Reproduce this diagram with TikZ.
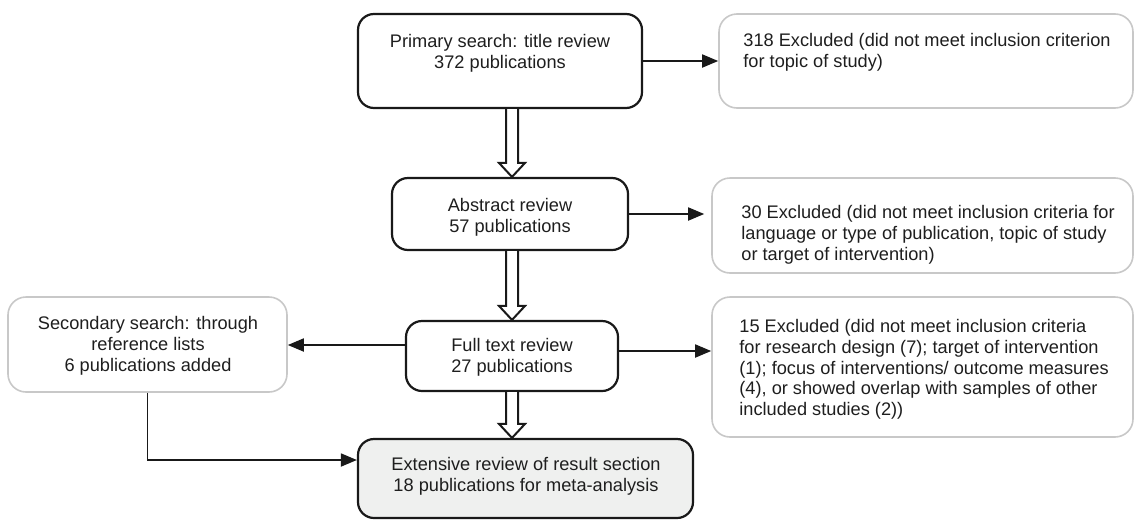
\documentclass[tikz,border=0pt]{standalone}
\usepackage{fontspec}
\setmainfont{Liberation Sans}
\usetikzlibrary{arrows.meta,calc,fit}
\definecolor{txtc}{HTML}{1E1E1E}
\definecolor{lgray}{HTML}{C8C8C8}
\definecolor{extfill}{HTML}{EFF0EF}
\begin{document}
\begin{tikzpicture}[x=0.5pt,y=-0.5pt,
  darkbox/.style={draw=black!90, line width=1.1pt, rounded corners=8pt, inner sep=0pt},
  lightbox/.style={draw=lgray, line width=0.8pt, rounded corners=9pt, inner sep=0pt},
  extbox/.style={darkbox, fill=extfill},
  txt/.style={inner sep=0pt, text=txtc, font=\fontsize{9.1pt}{10.4pt}\selectfont},
  ctxt/.style={txt, align=center, anchor=north},
  ltxt/.style={txt, align=left, anchor=north west},
  conn/.style={draw=black!90, line width=0.9pt, -{Triangle[length=8pt,width=6.5pt]}},
  hollow/.style={draw=black!90, fill=white, line width=1pt, line join=miter}]
\useasboundingbox (0,0) rectangle (1134,520);

% boxes
\node[darkbox, fit={(358,14) (642,108)}] (b1) {};
\node[lightbox, fit={(719,14) (1133,108)}] (e1) {};
\node[darkbox, fit={(392,178) (628,250)}] (b2) {};
\node[lightbox, fit={(712,178) (1133,273)}] (e2) {};
\node[lightbox, fit={(8,297) (287,392)}] (sec) {};
\node[darkbox, fit={(406,321) (618,391)}] (b3) {};
\node[lightbox, fit={(712,297) (1133,437)}] (e3) {};
\node[extbox, fit={(358,439) (693,518)}] (ext) {};

% texts
\node[ctxt] (tb1) at (500,34) {Primary search: title review\\372 publications};
\node[ltxt] (te1) at (743,33) {318 Excluded (did not meet inclusion criterion\\for topic of study)};
\node[ctxt] (tb2) at (510,198) {Abstract review\\57 publications};
\node[ltxt] (te2) at (741,205) {30 Excluded (did not meet inclusion criteria for\\language or type of publication, topic of study\\or target of intervention)};
\node[ctxt] (tsec) at (148,316) {Secondary search: through\\reference lists\\6 publications added};
\node[ctxt] (tb3) at (512,338) {Full text review\\27 publications};
\node[ltxt] (te3) at (739,319) {15 Excluded (did not meet inclusion criteria\\for research design (7); target of intervention\\(1); focus of interventions/ outcome measures\\(4), or showed overlap with samples of other\\included studies (2))};
\node[ctxt] (text) at (526,457) {Extensive review of result section\\18 publications for meta-analysis};

% hollow arrows
\draw[hollow] let \p1=(b1.south), \p2=(b2.north) in
  (253pt,\y1) -- (253pt,\y2+7pt) -- (249.5pt,\y2+7pt) -- (256pt,\y2)
  -- (262.5pt,\y2+7pt) -- (259pt,\y2+7pt) -- (259pt,\y1);
\draw[hollow] let \p1=(b2.south), \p2=(b3.north) in
  (253pt,\y1) -- (253pt,\y2+7pt) -- (249.5pt,\y2+7pt) -- (256pt,\y2)
  -- (262.5pt,\y2+7pt) -- (259pt,\y2+7pt) -- (259pt,\y1);
\draw[hollow] let \p1=(b3.south), \p2=(ext.north) in
  (253pt,\y1) -- (253pt,\y2+7pt) -- (249.5pt,\y2+7pt) -- (256pt,\y2)
  -- (262.5pt,\y2+7pt) -- (259pt,\y2+7pt) -- (259pt,\y1);

% connectors
\draw[conn] (b1.east) -- (e1.west);
\draw[conn, shorten >=3.5pt] (b2.east) -- (b2.east -| e2.west);
\coordinate (b3r) at ([yshift=2.5pt]b3.east);
\draw[conn] (b3r) -- (b3r -| e3.west);
\coordinate (b3l) at ([yshift=5.5pt]b3.west);
\draw[conn] (b3l) -- (b3l -| sec.east);
\coordinate (extl) at ([yshift=9.25pt]ext.west);
\draw[conn] (sec.south) |- (extl);
\end{tikzpicture}
\end{document}
